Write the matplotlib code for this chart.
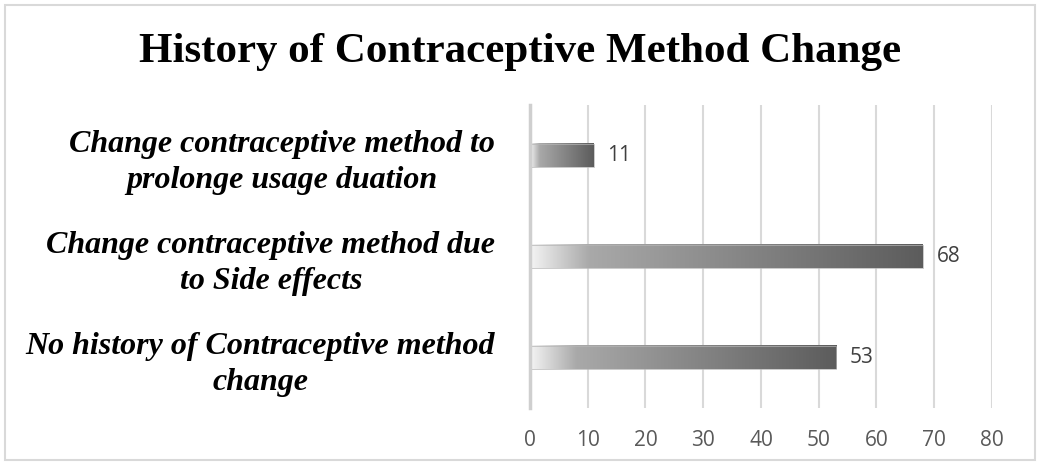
import numpy as np
import matplotlib
matplotlib.use("Agg")
import matplotlib.pyplot as plt
from matplotlib.colors import LinearSegmentedColormap
from matplotlib.patches import Rectangle

# chart data, top to bottom
categories = [
    "Change contraceptive method to\nprolonge usage duation",
    "Change contraceptive method due\nto Side effects",
    "No history of Contraceptive method\nchange",
]
counts = [11, 68, 53]
x_ticks = [0, 10, 20, 30, 40, 50, 60, 70, 80]

# white -> dark grey fill along each bar
bar_cmap = LinearSegmentedColormap.from_list(
    "bar_fill", [(0.0, "#f4f4f4"), (0.15, "#a9a9a9"), (1.0, "#5c5c5c")])
gradient = np.linspace(0, 1, 256).reshape(1, -1)

fig = plt.figure(figsize=(10.4, 4.65), dpi=100)
ax = fig.add_axes([0.5096, 0.1226, 0.4442, 0.6516])

bar_h = 0.23
y_pos = np.arange(len(categories))
for y, v in zip(y_pos, counts):
    ax.imshow(gradient, cmap=bar_cmap, aspect="auto", interpolation="bilinear",
              extent=(0, v, y + bar_h / 2, y - bar_h / 2), zorder=3)
    ax.add_patch(Rectangle((0, y - bar_h / 2), v, bar_h, fill=False,
                           edgecolor="#b5b5b5", linewidth=0.5, zorder=4))
    ax.text(v + 2.4, y, str(v), va="center", ha="left", fontsize=15,
            color="#404040", family="Open Sans", zorder=5)

ax.set_xlim(0, 80)
ax.set_ylim(len(categories) - 0.5, -0.5)
ax.set_xticks(x_ticks)
ax.set_xticklabels([str(t) for t in x_ticks], family="Open Sans",
                   fontsize=15, color="#595959")
ax.set_yticks(y_pos)
ax.set_yticklabels(categories, family="Liberation Serif", fontsize=23,
                   fontweight="bold", fontstyle="italic", color="black")
for lbl in ax.get_yticklabels():
    lbl.set_multialignment("center")
    lbl.set_linespacing(1.3)
ax.tick_params(axis="x", length=0, pad=16)
ax.tick_params(axis="y", length=0, pad=25)

ax.grid(axis="x", color="#d9d9d9", linewidth=1.5, zorder=0)
ax.set_axisbelow(True)
for side in ["top", "right", "bottom"]:
    ax.spines[side].set_visible(False)
ax.spines["left"].set_color("#cfcfcf")
ax.spines["left"].set_linewidth(2.5)
ax.spines["left"].set_zorder(6)

fig.text(0.5, 0.888, "History of Contraceptive Method Change",
         ha="center", va="center", family="Liberation Serif",
         fontsize=31, fontweight="bold")

# light frame round the whole chart
fig.patches.append(Rectangle((0.005, 0.01), 0.99, 0.98, transform=fig.transFigure,
                             fill=False, edgecolor="#d9d9d9", linewidth=1.5))

fig.savefig("out.png", dpi=100)
